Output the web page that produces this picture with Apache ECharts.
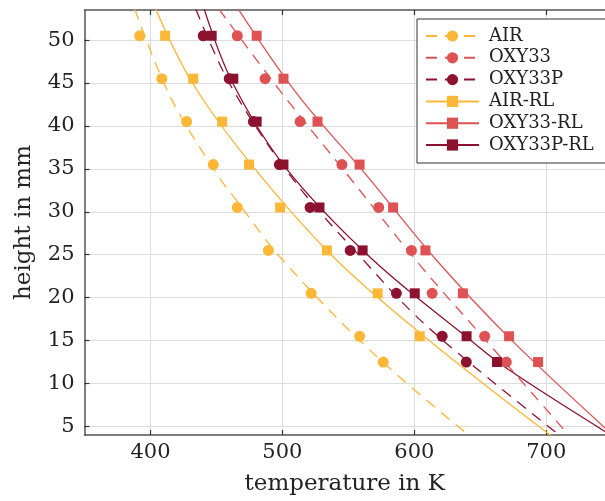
<!DOCTYPE html>
<html>
<head>
<meta charset="utf-8">
<style>
  html, body { margin: 0; padding: 0; background: #fff; }
  #chart { width: 605px; height: 501px; }
</style>
<script src="https://cdn.jsdelivr.net/npm/echarts@6.0.0/dist/echarts.min.js"></script>
</head>
<body>
<div id="chart"></div>
<script>
// measured heights (mm) of the probe positions
const heights = [50.5, 45.5, 40.5, 35.5, 30.5, 25.5, 20.5, 15.5, 12.5]

// measured temperatures (K), one per height
const airT = [391.9, 408.6, 427.4, 447.6, 465.8, 489.4, 521.8, 558.5, 576.4]
const oxy33T = [465.8, 486.9, 513.4, 545.1, 573.0, 597.8, 613.5, 653.3, 669.7]
const oxy33pT = [440.0, 459.7, 478.0, 497.7, 521.0, 551.4, 586.4, 621.1, 639.4]
const airRlT = [411.1, 432.4, 454.4, 474.7, 498.3, 533.7, 572.2, 604.1]
const oxy33RlT = [480.5, 500.8, 526.6, 558.5, 583.9, 608.4, 636.8, 671.8, 693.8]
const oxy33pRlT = [446.4, 462.8, 480.5, 500.8, 528.1, 560.8, 600.3, 639.6, 662.6]

// fitted curves, [temperature, height]
const airFit = [[388.1, 53.6], [414.7, 43.5], [450.2, 34.4], [465.3, 31.3], [499.5, 24.5], [567.9, 13.65], [641.3, 3.95]]
const oxy33Fit = [[451.9, 53.6], [498.3, 44.07], [548.9, 34.38], [604.6, 23.72], [656.5, 14.62], [716.1, 4.15]]
const oxy33pFit = [[434.4, 53.6], [461.6, 44.47], [510.9, 33.22], [564.1, 23.92], [598.3, 18.3], [633.7, 13.45], [708.5, 4.15]]
const airRlFit = [[404.0, 53.6], [432.4, 44.85], [479.3, 34.97], [540.2, 24.5], [608.4, 15.37], [703.4, 3.95]]
const oxy33RlFit = [[466.6, 53.6], [510.9, 43.77], [564.1, 34.19], [616.0, 24.5], [671.6, 15.37], [745.2, 4.73]]
const oxy33pRlFit = [[440.7, 53.6], [462.8, 44.85], [503.3, 34.97], [567.9, 24.5], [641.3, 15.2], [670.5, 11.71], [745.2, 4.35]]

const xTicks = [400, 500, 600, 700]
const yTicks = [5, 10, 15, 20, 25, 30, 35, 40, 45, 50]

const names = ['AIR', 'OXY33', 'OXY33P', 'AIR-RL', 'OXY33-RL', 'OXY33P-RL']

const yellow = '#fbb735'
const red = '#df5254'
const darkRed = '#8c1230'
const font = 'DejaVu Serif'
const ink = '#222'

const toPoints = temps => temps.map((t, i) => [t, heights[i]])

function fitSeries(name, color, dashed, symbol, data) {
  return {
    name,
    type: 'line',
    data,
    smooth: 0.35,
    symbol,
    showSymbol: false,
    color,
    lineStyle: {
      color,
      width: 1.3,
      type: dashed ? [11, 8] : 'solid',
    },
    silent: true,
    z: 2,
  }
}

function markSeries(name, color, symbol, size, temps) {
  return {
    name,
    type: 'scatter',
    data: toPoints(temps),
    symbol,
    symbolSize: size,
    itemStyle: { color, opacity: 1 },
    silent: true,
    z: 3,
  }
}

const chart = echarts.init(document.getElementById('chart'), null, { renderer: 'canvas' })

const axisLine = { show: true, lineStyle: { color: '#555', width: 1.5 } }
const tickStyle = { color: '#333', width: 1.2 }

chart.setOption({
  animation: false,
  backgroundColor: '#fff',
  grid: {
    left: 84.5,
    right: 0,
    top: 10,
    bottom: 65,
  },
  xAxis: [
    {
      type: 'value',
      min: 350,
      max: 744.5,
      position: 'bottom',
      axisLine,
      axisTick: { show: true, inside: true, length: 5, customValues: xTicks, lineStyle: tickStyle },
      axisLabel: { customValues: xTicks, fontFamily: font, fontSize: 21, color: ink, margin: 7 },
      splitLine: { show: true, lineStyle: { color: '#dcdcdc', width: 1 } },
      name: 'temperature in K',
      nameLocation: 'middle',
      nameGap: 38,
      nameTextStyle: { fontFamily: font, fontSize: 23, color: ink },
    },
    {
      type: 'value',
      min: 350,
      max: 744.5,
      position: 'top',
      axisLine,
      axisTick: { show: true, inside: true, length: 5, customValues: xTicks, lineStyle: tickStyle },
      axisLabel: { show: false },
      splitLine: { show: false },
    },
  ],
  yAxis: {
    type: 'value',
    min: 4,
    max: 53.5,
    axisLine,
    axisTick: { show: true, inside: true, length: 5, customValues: yTicks, lineStyle: tickStyle },
    axisLabel: { customValues: yTicks, fontFamily: font, fontSize: 21, color: ink, margin: 10 },
    splitLine: { show: true, lineStyle: { color: '#dcdcdc', width: 1 } },
    name: 'height in mm',
    nameLocation: 'middle',
    nameGap: 49,
    nameTextStyle: { fontFamily: font, fontSize: 23, color: ink },
  },
  legend: {
    orient: 'vertical',
    left: 417,
    top: 19,
    data: names,
    itemWidth: 53,
    itemHeight: 14,
    itemGap: 3.8,
    padding: [8, 13, 9, 8],
    borderColor: '#333',
    borderWidth: 1,
    borderRadius: 0,
    backgroundColor: '#fff',
    selectedMode: false,
    textStyle: { fontFamily: font, fontSize: 18, color: ink, lineHeight: 18, padding: [0, 0, 0, 5] },
  },
  series: [
    fitSeries('AIR', yellow, true, 'circle', airFit),
    fitSeries('OXY33', red, true, 'circle', oxy33Fit),
    fitSeries('OXY33P', darkRed, true, 'circle', oxy33pFit),
    fitSeries('AIR-RL', yellow, false, 'rect', airRlFit),
    fitSeries('OXY33-RL', red, false, 'rect', oxy33RlFit),
    fitSeries('OXY33P-RL', darkRed, false, 'rect', oxy33pRlFit),
    markSeries('AIR', yellow, 'circle', 11, airT),
    markSeries('OXY33', red, 'circle', 11, oxy33T),
    markSeries('OXY33P', darkRed, 'circle', 11, oxy33pT),
    markSeries('AIR-RL', yellow, 'rect', 10, airRlT),
    markSeries('OXY33-RL', red, 'rect', 10, oxy33RlT),
    markSeries('OXY33P-RL', darkRed, 'rect', 10, oxy33pRlT),
  ],
})
</script>
</body>
</html>
